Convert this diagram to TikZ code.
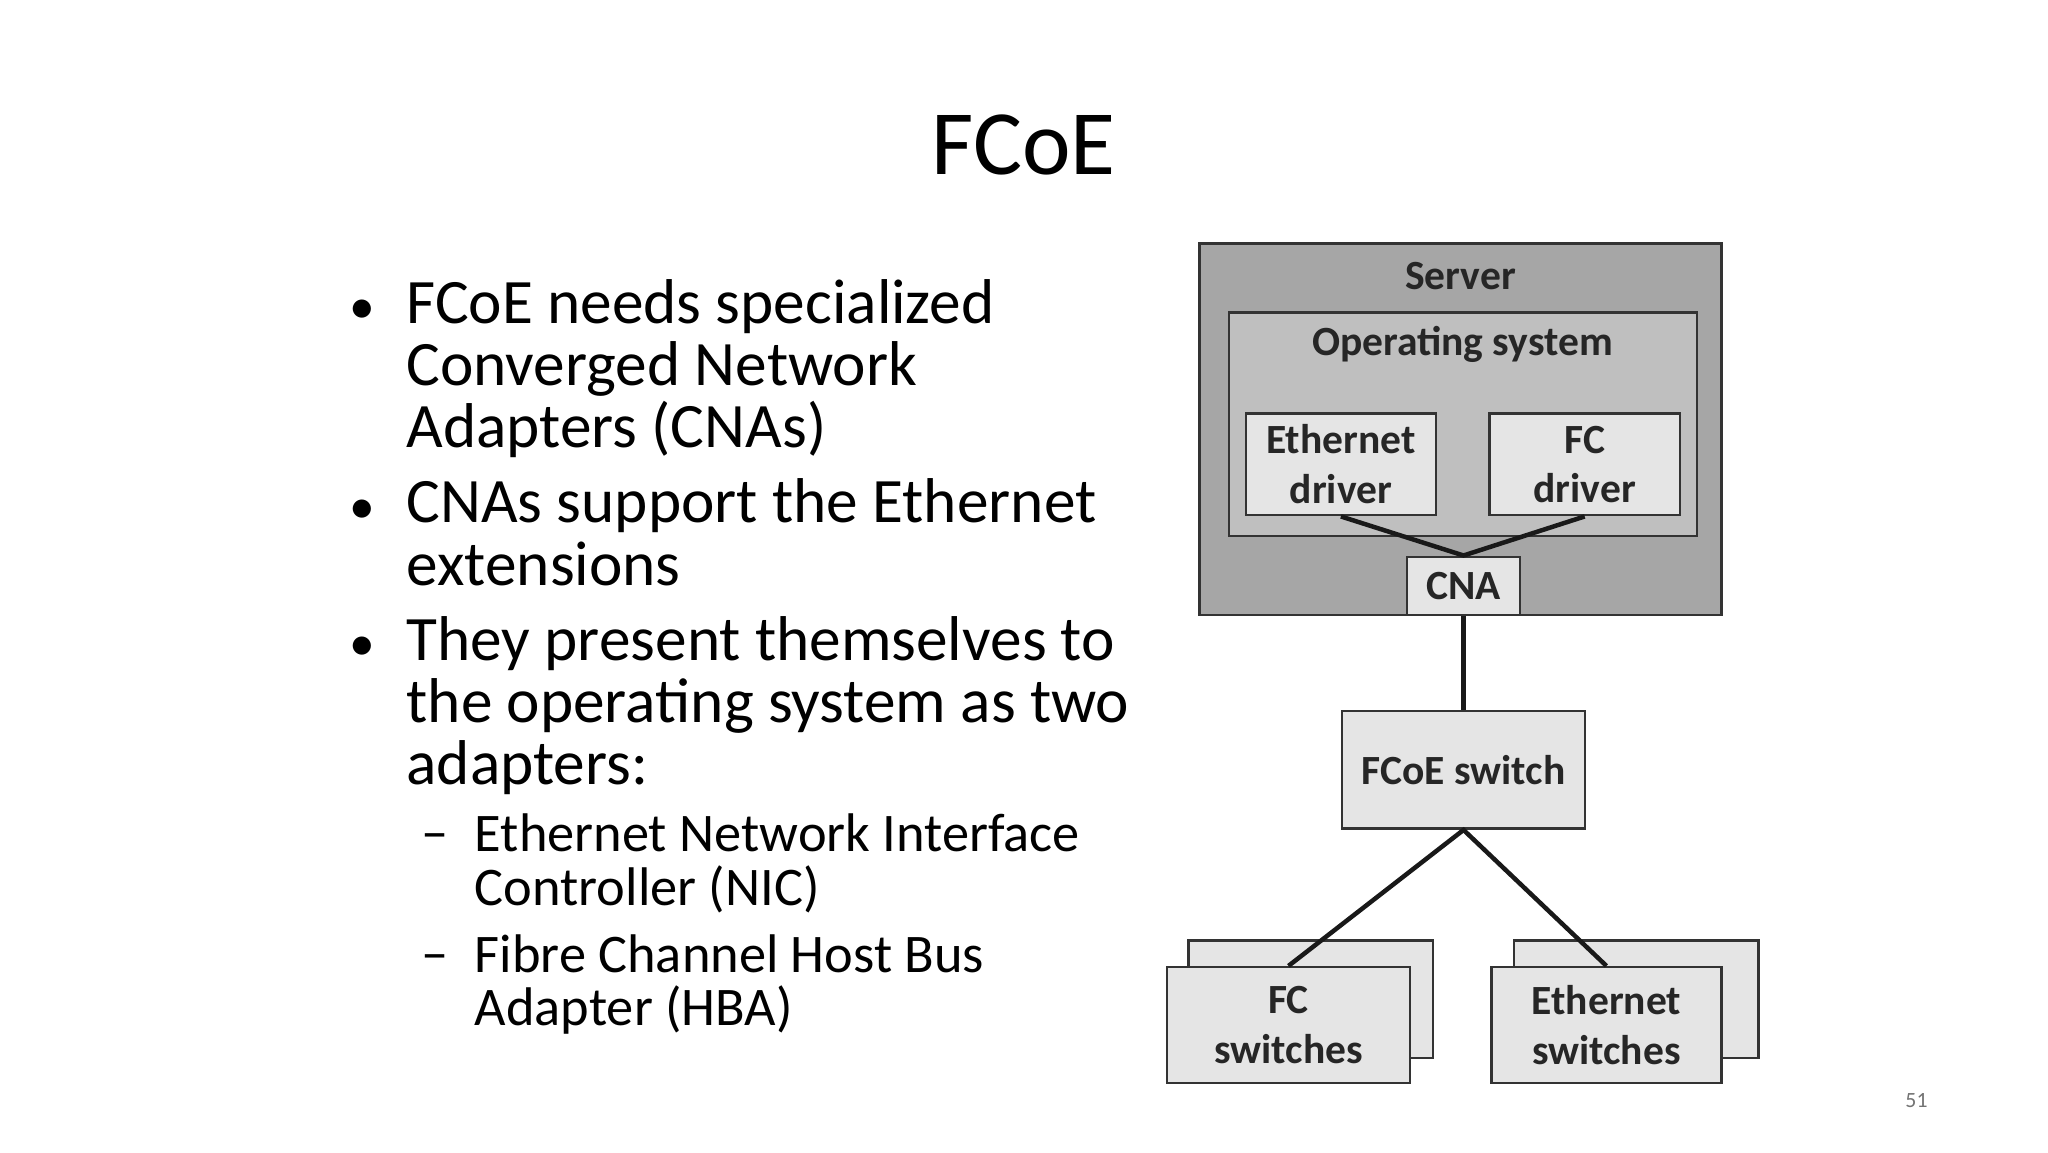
\documentclass[tikz,border=0pt]{standalone}
\usepackage{fontspec}
\setmainfont{Carlito}
\begin{document}
\begin{tikzpicture}[x=1pt,y=-1pt,scale=0.989,transform shape,
  box/.style={draw=black!80,line width=2.5pt,fill=#1},
  lbl/.style={font=\fontsize{42}{50}\selectfont\bfseries,text=black!85,align=center},
  ln/.style={line width=4.5pt,black!90},
  bul/.style={anchor=west,align=left,font=\fontsize{64}{63}\selectfont,inner sep=0pt},
  sub/.style={anchor=west,align=left,font=\fontsize{55}{54}\selectfont,inner sep=0pt}]
\useasboundingbox[fill=white] (0,0) rectangle (2071,1165);
\node[font=\fontsize{93}{95}\selectfont] (title) at (1035,147) {FCoE};
% bullets
\node[bul,font=\fontsize{52}{60}\selectfont] (b1m) at (353,315) {•};
\node[bul,anchor=north west] (b1) at (411,282) {FCoE needs specialized\\Converged Network\\Adapters (CNAs)};
\node[bul,font=\fontsize{52}{60}\selectfont] (b2m) at (353,517) {•};
\node[bul,anchor=north west] (b2) at (411,484) {CNAs support the Ethernet\\extensions};
\node[bul,font=\fontsize{52}{60}\selectfont] (b3m) at (353,656) {•};
\node[bul,anchor=north west] (b3) at (411,623) {They present themselves to\\the operating system as two\\adapters:};
\node[sub] (s1m) at (426,852) {–};
\node[sub,anchor=north west] (s1) at (480,823) {Ethernet Network Interface\\Controller (NIC)};
\node[sub] (s2m) at (426,974) {–};
\node[sub,anchor=north west] (s2) at (480,945) {Fibre Channel Host Bus\\Adapter (HBA)};
\node[font=\fontsize{22}{24}\selectfont,text=black!55] (num) at (1938,1113) {51};
% diagram
\draw[box=black!35] (1213,246) rectangle (1741,622);
\node[lbl] (server) at (1477,279) {Server};
\draw[box=black!25] (1243,316) rectangle (1716,542);
\node[lbl] (os) at (1479,348) {Operating system};
\node[box=black!10,lbl,minimum width=192pt,minimum height=103pt,inner sep=0pt] (eth) at (1356,469.5) {Ethernet\\driver};
\node[box=black!10,lbl,minimum width=193pt,minimum height=103pt,inner sep=0pt] (fc) at (1602.5,469.5) {FC\\driver};
\node[box=black!10,lbl,minimum width=114pt,minimum height=59pt,inner sep=0pt] (cna) at (1480,592.5) {CNA};
\draw[ln] (eth.south) -- (cna.north) -- (fc.south);
\node[box=black!10,lbl,minimum width=246pt,minimum height=119pt,inner sep=0pt] (fcoe) at (1480,778.5) {FCoE switch};
\draw[ln] (cna.south) -- (fcoe.north);
\draw[box=black!10] (1202,951) rectangle (1449,1070);
\node[box=black!10,lbl,minimum width=246pt,minimum height=117pt,inner sep=0pt] (fcs) at (1303,1036.5) {FC\\switches};
\draw[box=black!10] (1531,951) rectangle (1778,1070);
\node[box=black!10,lbl,minimum width=233pt,minimum height=117pt,inner sep=0pt] (eths) at (1624.5,1036.5) {Ethernet\\switches};
\draw[ln] (fcs.north) -- (fcoe.south) -- (eths.north);
\end{tikzpicture}
\end{document}
